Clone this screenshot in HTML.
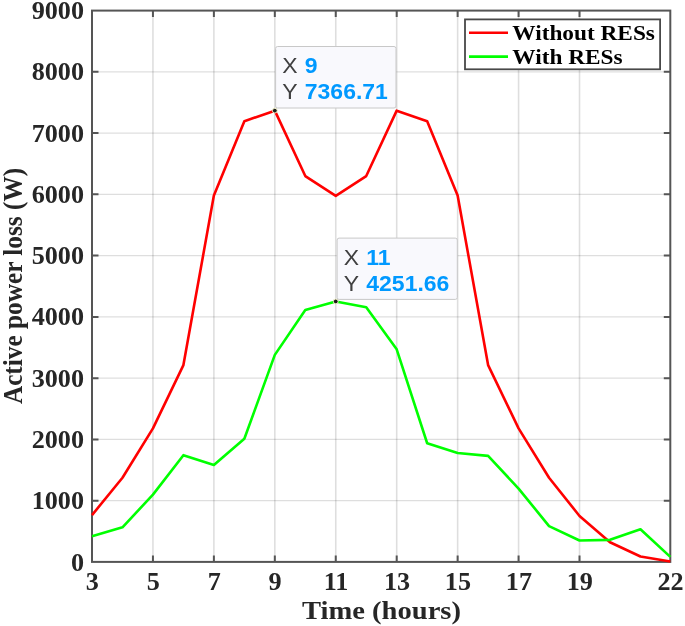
<!DOCTYPE html><html><head><meta charset="utf-8"><title>Active power loss</title><style>html,body{margin:0;padding:0;background:#fff;overflow:hidden}svg{display:block;filter:blur(0.35px)}</style></head><body>
<svg width="685" height="626" viewBox="0 0 685 626">
<rect width="685" height="626" fill="#fff"/>
<path d="M152.94 10.60V561.90M213.88 10.60V561.90M274.82 10.60V561.90M335.76 10.60V561.90M396.70 10.60V561.90M457.64 10.60V561.90M518.58 10.60V561.90M579.52 10.60V561.90" stroke="#000" stroke-opacity="0.13" stroke-width="1.6" fill="none"/>
<path d="M92.00 500.64H670.30M92.00 439.39H670.30M92.00 378.13H670.30M92.00 316.88H670.30M92.00 255.62H670.30M92.00 194.37H670.30M92.00 133.11H670.30M92.00 71.86H670.30" stroke="#000" stroke-opacity="0.13" stroke-width="1.3" fill="none"/>
<path d="M152.94 561.90V555.40M152.94 10.60V17.10M213.88 561.90V555.40M213.88 10.60V17.10M274.82 561.90V555.40M274.82 10.60V17.10M335.76 561.90V555.40M335.76 10.60V17.10M396.70 561.90V555.40M396.70 10.60V17.10M457.64 561.90V555.40M457.64 10.60V17.10M518.58 561.90V555.40M518.58 10.60V17.10M579.52 561.90V555.40M579.52 10.60V17.10M92.00 500.64H98.50M670.30 500.64H663.80M92.00 439.39H98.50M670.30 439.39H663.80M92.00 378.13H98.50M670.30 378.13H663.80M92.00 316.88H98.50M670.30 316.88H663.80M92.00 255.62H98.50M670.30 255.62H663.80M92.00 194.37H98.50M670.30 194.37H663.80M92.00 133.11H98.50M670.30 133.11H663.80M92.00 71.86H98.50M670.30 71.86H663.80" stroke="#555555" stroke-width="2" fill="none"/>
<rect x="92.00" y="10.60" width="578.30" height="551.30" fill="none" stroke="#555555" stroke-width="2"/>
<polyline points="92.00,515.10 122.47,477.73 152.94,428.42 183.41,365.09 213.88,195.59 244.35,121.17 274.82,110.65 305.29,176.05 335.76,195.84 366.23,176.05 396.70,110.65 427.17,121.17 457.64,195.59 488.11,365.09 518.58,428.42 549.05,477.73 579.52,515.96 609.99,542.30 640.46,556.51 670.30,561.59" fill="none" stroke="#ff0000" stroke-width="2.6" stroke-linejoin="round"/>
<polyline points="92.00,536.17 122.47,527.35 152.94,494.64 183.41,455.19 213.88,465.05 244.35,438.78 274.82,354.86 305.29,310.08 335.76,301.46 366.23,307.26 396.70,349.28 427.17,443.25 457.64,453.05 488.11,455.87 518.58,488.58 549.05,526.07 579.52,540.46 609.99,539.85 640.46,529.31 670.30,556.88" fill="none" stroke="#00ff00" stroke-width="2.6" stroke-linejoin="round"/>
<text transform="translate(84.00,570.50) scale(1.035,1)" font-family="'Liberation Serif', 'Times New Roman', serif" font-size="25.3" font-weight="bold" text-anchor="end" fill="#262626">0</text>
<text transform="translate(84.00,509.24) scale(1.035,1)" font-family="'Liberation Serif', 'Times New Roman', serif" font-size="25.3" font-weight="bold" text-anchor="end" fill="#262626">1000</text>
<text transform="translate(84.00,447.99) scale(1.035,1)" font-family="'Liberation Serif', 'Times New Roman', serif" font-size="25.3" font-weight="bold" text-anchor="end" fill="#262626">2000</text>
<text transform="translate(84.00,386.73) scale(1.035,1)" font-family="'Liberation Serif', 'Times New Roman', serif" font-size="25.3" font-weight="bold" text-anchor="end" fill="#262626">3000</text>
<text transform="translate(84.00,325.48) scale(1.035,1)" font-family="'Liberation Serif', 'Times New Roman', serif" font-size="25.3" font-weight="bold" text-anchor="end" fill="#262626">4000</text>
<text transform="translate(84.00,264.22) scale(1.035,1)" font-family="'Liberation Serif', 'Times New Roman', serif" font-size="25.3" font-weight="bold" text-anchor="end" fill="#262626">5000</text>
<text transform="translate(84.00,202.97) scale(1.035,1)" font-family="'Liberation Serif', 'Times New Roman', serif" font-size="25.3" font-weight="bold" text-anchor="end" fill="#262626">6000</text>
<text transform="translate(84.00,141.71) scale(1.035,1)" font-family="'Liberation Serif', 'Times New Roman', serif" font-size="25.3" font-weight="bold" text-anchor="end" fill="#262626">7000</text>
<text transform="translate(84.00,80.46) scale(1.035,1)" font-family="'Liberation Serif', 'Times New Roman', serif" font-size="25.3" font-weight="bold" text-anchor="end" fill="#262626">8000</text>
<text transform="translate(84.00,19.20) scale(1.035,1)" font-family="'Liberation Serif', 'Times New Roman', serif" font-size="25.3" font-weight="bold" text-anchor="end" fill="#262626">9000</text>
<text transform="translate(92.30,590.20) scale(1.035,1)" font-family="'Liberation Serif', 'Times New Roman', serif" font-size="25.3" font-weight="bold" text-anchor="middle" fill="#262626">3</text>
<text transform="translate(153.24,590.20) scale(1.035,1)" font-family="'Liberation Serif', 'Times New Roman', serif" font-size="25.3" font-weight="bold" text-anchor="middle" fill="#262626">5</text>
<text transform="translate(214.18,590.20) scale(1.035,1)" font-family="'Liberation Serif', 'Times New Roman', serif" font-size="25.3" font-weight="bold" text-anchor="middle" fill="#262626">7</text>
<text transform="translate(275.12,590.20) scale(1.035,1)" font-family="'Liberation Serif', 'Times New Roman', serif" font-size="25.3" font-weight="bold" text-anchor="middle" fill="#262626">9</text>
<text transform="translate(336.06,590.20) scale(1.035,1)" font-family="'Liberation Serif', 'Times New Roman', serif" font-size="25.3" font-weight="bold" text-anchor="middle" fill="#262626">11</text>
<text transform="translate(397.00,590.20) scale(1.035,1)" font-family="'Liberation Serif', 'Times New Roman', serif" font-size="25.3" font-weight="bold" text-anchor="middle" fill="#262626">13</text>
<text transform="translate(457.94,590.20) scale(1.035,1)" font-family="'Liberation Serif', 'Times New Roman', serif" font-size="25.3" font-weight="bold" text-anchor="middle" fill="#262626">15</text>
<text transform="translate(518.88,590.20) scale(1.035,1)" font-family="'Liberation Serif', 'Times New Roman', serif" font-size="25.3" font-weight="bold" text-anchor="middle" fill="#262626">17</text>
<text transform="translate(579.82,590.20) scale(1.035,1)" font-family="'Liberation Serif', 'Times New Roman', serif" font-size="25.3" font-weight="bold" text-anchor="middle" fill="#262626">19</text>
<text transform="translate(670.60,590.20) scale(1.035,1)" font-family="'Liberation Serif', 'Times New Roman', serif" font-size="25.3" font-weight="bold" text-anchor="middle" fill="#262626">22</text>
<text transform="translate(381.50,618.50) scale(1.112,1)" font-family="'Liberation Serif', 'Times New Roman', serif" font-size="25.7" font-weight="bold" text-anchor="middle" fill="#262626">Time (hours)</text>
<text transform="translate(21.80,286.00) rotate(-90) scale(1,1.06)" font-family="'Liberation Serif', 'Times New Roman', serif" font-size="25.3" font-weight="bold" text-anchor="middle" fill="#262626">Active power loss (W)</text>
<rect x="465" y="19.4" width="195.10" height="49.90" fill="#fff" stroke="#484848" stroke-width="1.8"/>
<line x1="469" y1="32.8" x2="508" y2="32.8" stroke="#ff0000" stroke-width="2.6"/>
<line x1="469" y1="56.6" x2="508" y2="56.6" stroke="#00ff00" stroke-width="2.6"/>
<text transform="translate(512.30,40.20) scale(1.11,1)" font-family="'Liberation Serif', 'Times New Roman', serif" font-size="21.0" font-weight="bold" text-anchor="start" fill="#000">Without RESs</text>
<text transform="translate(512.30,63.90) scale(1.11,1)" font-family="'Liberation Serif', 'Times New Roman', serif" font-size="21.0" font-weight="bold" text-anchor="start" fill="#000">With RESs</text>
<rect x="275.60" y="46.50" width="120.40" height="61.50" rx="2" fill="#f9f9fd" stroke="#c8c8c8" stroke-width="1"/><text transform="translate(282.20,73.10) scale(1.07,1)" font-family="'Liberation Sans', Arial, sans-serif" font-size="21.5" font-weight="normal" text-anchor="start" fill="#404040">X</text><text transform="translate(304.80,73.10) scale(1.07,1)" font-family="'Liberation Sans', Arial, sans-serif" font-size="21.5" font-weight="bold" text-anchor="start" fill="#0099ff">9</text><text transform="translate(282.20,99.40) scale(1.07,1)" font-family="'Liberation Sans', Arial, sans-serif" font-size="21.5" font-weight="normal" text-anchor="start" fill="#404040">Y</text><text transform="translate(304.80,99.40) scale(1.07,1)" font-family="'Liberation Sans', Arial, sans-serif" font-size="21.5" font-weight="bold" text-anchor="start" fill="#0099ff">7366.71</text><circle cx="274.82" cy="110.65" r="2.4" fill="#1a1a1a" stroke="#f2f2c8" stroke-width="1"/>
<rect x="337.10" y="238.10" width="120.20" height="61.30" rx="2" fill="#f9f9fd" stroke="#c8c8c8" stroke-width="1"/><text transform="translate(343.70,264.70) scale(1.07,1)" font-family="'Liberation Sans', Arial, sans-serif" font-size="21.5" font-weight="normal" text-anchor="start" fill="#404040">X</text><text transform="translate(366.30,264.70) scale(1.07,1)" font-family="'Liberation Sans', Arial, sans-serif" font-size="21.5" font-weight="bold" text-anchor="start" fill="#0099ff">11</text><text transform="translate(343.70,291.00) scale(1.07,1)" font-family="'Liberation Sans', Arial, sans-serif" font-size="21.5" font-weight="normal" text-anchor="start" fill="#404040">Y</text><text transform="translate(366.30,291.00) scale(1.07,1)" font-family="'Liberation Sans', Arial, sans-serif" font-size="21.5" font-weight="bold" text-anchor="start" fill="#0099ff">4251.66</text><circle cx="335.76" cy="301.46" r="2.4" fill="#1a1a1a" stroke="#f2f2c8" stroke-width="1"/>
</svg></body></html>
